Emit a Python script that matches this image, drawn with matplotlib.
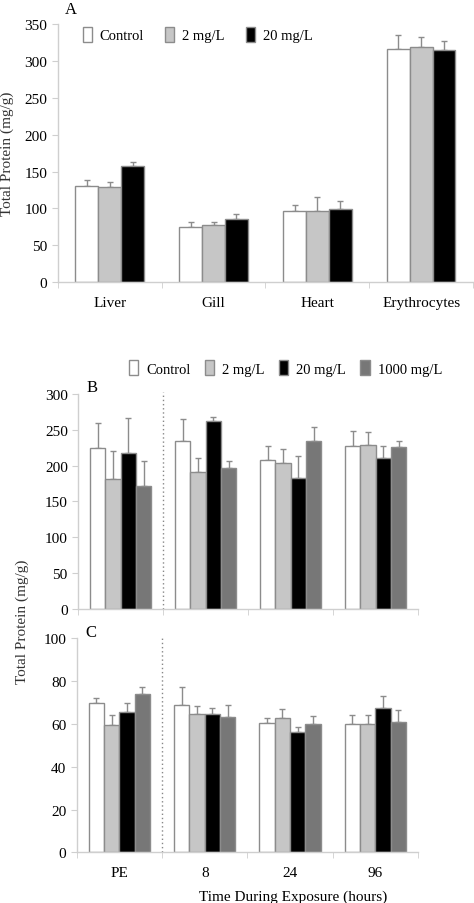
import matplotlib
matplotlib.use('Agg')
import matplotlib.pyplot as plt
import numpy as np
from matplotlib.patches import Patch

plt.rcParams['font.family'] = ['Liberation Serif', 'DejaVu Serif']
plt.rcParams['font.size'] = 10

# panel A: tissues
tissues = ['Liver', 'Gill', 'Heart', 'Erythrocytes']
a_labels = ['Control', '2 mg/L', '20 mg/L']
a_mean = [
    [130, 75, 96, 317],     # Control
    [129, 77, 96, 319],     # 2 mg/L
    [157, 85, 99, 315],     # 20 mg/L
]
a_err = [
    [9, 7, 8, 18],
    [7, 5, 20, 14],
    [6, 7, 11, 12],
]

# panels B and C: time course
times = ['PE', '8', '24', '96']
bc_labels = ['Control', '2 mg/L', '20 mg/L', '1000 mg/L']
b_mean = [
    [225, 235, 208, 228],
    [181, 191, 203, 229],
    [217, 262, 182, 211],
    [172, 196, 235, 226],
]
b_err = [
    [35, 30, 20, 20],
    [39, 20, 20, 18],
    [49, 6, 31, 17],
    [35, 10, 19, 8],
]
c_mean = [
    [69.8, 68.9, 60.5, 60.0],
    [59.6, 64.4, 62.8, 60.0],
    [65.6, 64.7, 56.0, 67.2],
    [73.9, 63.0, 59.9, 60.8],
]
c_err = [
    [2.1, 8.2, 2.0, 4.1],
    [4.6, 3.9, 4.1, 4.1],
    [4.1, 2.8, 2.3, 5.9],
    [3.1, 5.7, 3.9, 5.8],
]

fills = ['white', '#c6c6c6', 'black', '#777777']
edge = '#8c8c8c'
spine_c = '#cfcfcf'


def style_axes(ax):
    for s in ['top', 'right']:
        ax.spines[s].set_visible(False)
    for s in ['left', 'bottom']:
        ax.spines[s].set_color(spine_c)
        ax.spines[s].set_linewidth(1)
    ax.tick_params(axis='y', colors=spine_c, labelcolor='black', length=4, labelsize=11)
    ax.tick_params(axis='x', which='major', length=0, pad=10, labelsize=11)
    ax.tick_params(axis='x', which='minor', colors=spine_c, length=4)


def grouped(ax, cats, means, errs, width):
    n = len(means)
    x = np.arange(len(cats))
    for i in range(n):
        pos = x + (i - (n - 1) / 2) * width
        ax.bar(pos, means[i], width, color=fills[i], edgecolor=edge, linewidth=1, zorder=2)
        ax.errorbar(pos, means[i], yerr=[np.zeros(len(cats)), errs[i]], fmt='none',
                    ecolor=edge, elinewidth=1, capsize=2, capthick=1, zorder=1)
    ax.set_xlim(-0.5, len(cats) - 0.5)
    ax.set_xticks(x)
    ax.set_xticklabels(cats)
    ax.set_xticks(np.arange(len(cats) + 1) - 0.5, minor=True)
    style_axes(ax)


leg_kw = dict(frameon=False, fontsize=10.5, handlelength=0.62, handleheight=1.2,
              handletextpad=0.55, borderpad=0, borderaxespad=0)

fig = plt.figure(figsize=(4.74, 9.04), dpi=100)

# ---- A
axA = fig.add_axes([0.122, 0.687, 0.876, 0.285])
grouped(axA, tissues, a_mean, a_err, 0.22)
axA.set_ylim(0, 350)
axA.set_yticks(range(0, 351, 50))
axA.set_ylabel('Total Protein (mg/g)', fontsize=11, color='#333333')
axA.yaxis.set_label_coords(-0.105, 0.5)
fig.text(0.137, 0.998, 'A', fontsize=12, va='top')
hA = [Patch(facecolor=fills[i], edgecolor=edge, label=a_labels[i]) for i in range(3)]
axA.legend(handles=hA, loc='center left', bbox_to_anchor=(0.06, 0.961), ncol=3,
           columnspacing=1.45, **leg_kw)

# ---- B
axB = fig.add_axes([0.165, 0.3256, 0.717, 0.2374])
grouped(axB, times, b_mean, b_err, 0.18)
axB.set_ylim(0, 300)
axB.set_yticks(range(0, 301, 50))
axB.tick_params(axis='x', which='major', labelbottom=False)
axB.axvline(0.5, ymax=1.01, color='#888888', linestyle=(0, (1, 2)), linewidth=1, clip_on=False)
axB.text(0.024, 1.033, 'B', transform=axB.transAxes, fontsize=12, va='center')
hB = [Patch(facecolor=fills[i], edgecolor=edge, label=bc_labels[i]) for i in range(4)]
fig.legend(handles=hB, loc='center left', bbox_to_anchor=(0.272, 0.592), ncol=4,
           columnspacing=1.0, **leg_kw)

# ---- C
axC = fig.add_axes([0.162, 0.056, 0.72, 0.237])
grouped(axC, times, c_mean, c_err, 0.18)
axC.set_ylim(0, 100)
axC.set_yticks(range(0, 101, 20))
axC.axvline(0.5, ymax=1.01, color='#888888', linestyle=(0, (1, 2)), linewidth=1, clip_on=False)
axC.text(0.026, 1.028, 'C', transform=axC.transAxes, fontsize=12, va='center')

fig.text(0.047, 0.312, 'Total Protein (mg/g)', rotation=90, ha='center', va='center',
         fontsize=11, color='#333333')
fig.text(0.618, 0.0077, 'Time During Exposure (hours)', ha='center', va='center', fontsize=11)

fig.savefig('out.png', dpi=100)
